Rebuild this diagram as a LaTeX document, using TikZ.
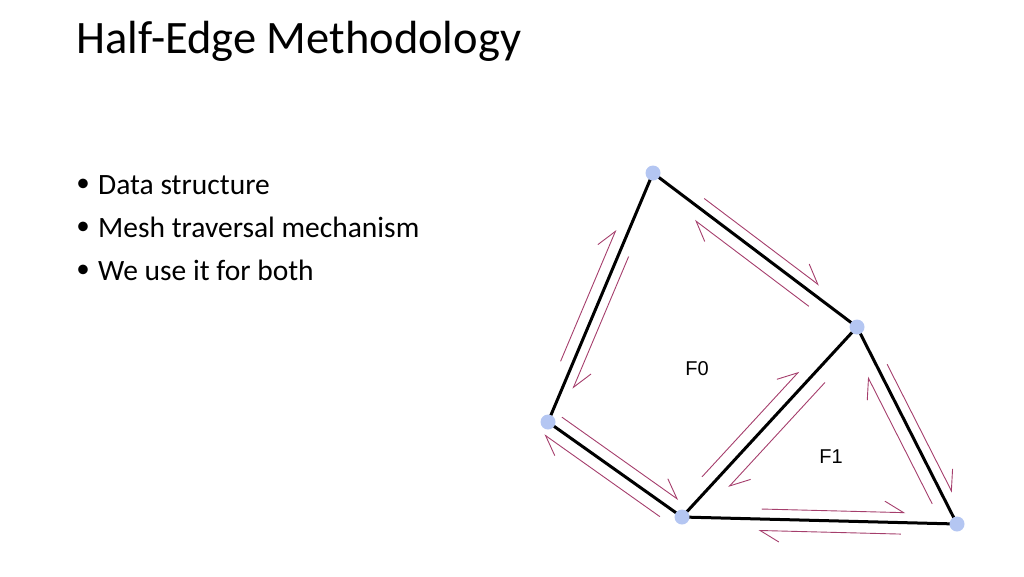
\documentclass[tikz,border=0pt]{standalone}
\usepackage{fontspec}
\setmainfont{Carlito}
\newfontfamily\labelfont{Liberation Sans}
\usetikzlibrary{calc,arrows.meta}
\definecolor{vtxblue}{RGB}{180,198,242}
\definecolor{halfrose}{RGB}{165,62,108}

\begin{document}
\begin{tikzpicture}[x=1pt,y=-1pt,
  vtx/.style={circle,fill=vtxblue,inner sep=0pt,minimum width=15pt,minimum height=13pt},
  edge/.style={line width=3pt,black},
  half/.style={halfrose,line width=0.9pt,-{Straight Barb[harpoon,length=19pt,width=22pt]}},
  item/.style={anchor=base west,inner sep=0pt,font=\fontsize{29.5}{35}\selectfont},
  dot/.style={inner sep=0pt,font=\fontsize{27}{27}\selectfont},
  face/.style={font=\labelfont\fontsize{20}{22}\selectfont}]
\useasboundingbox (0,0) rectangle (1024,576);

% title and bullets
\node (title) at (76,53) [anchor=base west,inner sep=0pt,font=\fontsize{46.5}{56}\selectfont] {Half-Edge Methodology};
\node (d1) at (83,185) [dot] {\textbullet};
\node (d2) at (83,228) [dot] {\textbullet};
\node (d3) at (83,271) [dot] {\textbullet};
\node (b1) at (98,194) [item] {Data structure};
\node (b2) at (98,237) [item] {Mesh traversal mechanism};
\node (b3) at (98,280) [item] {We use it for both};

% edges
\coordinate (p1) at (653,173);
\coordinate (p2) at (857,327);
\coordinate (p3) at (548,422);
\coordinate (p4) at (682,517);
\coordinate (p5) at (957,524);

\draw[edge] (p1) -- (p2);
\draw[edge] (p1) -- (p3);
\draw[edge] (p3) -- (p4);
\draw[edge] (p4) -- (p2);
\draw[edge] (p2) -- (p5);
\draw[edge] (p4) -- (p5);

% half-edges
\draw[half] ($(p3)!0.225!(p1)!12pt!90:(p1)$) -- ($(p3)!0.753!(p1)!12pt!90:(p1)$);
\draw[half] ($(p1)!0.32!(p3)!10pt!90:(p3)$) -- ($(p1)!0.851!(p3)!10pt!90:(p3)$);
\draw[half] ($(p1)!0.22!(p2)!10.5pt!90:(p2)$) -- ($(p1)!0.783!(p2)!10.5pt!90:(p2)$);
\draw[half] ($(p2)!0.199!(p1)!12.5pt!90:(p1)$) -- ($(p2)!0.758!(p1)!12.5pt!90:(p1)$);
\draw[half] ($(p3)!0.052!(p4)!12pt!90:(p4)$) -- ($(p3)!0.921!(p4)!12pt!90:(p4)$);
\draw[half] ($(p4)!0.111!(p3)!12.5pt!90:(p3)$) -- ($(p4)!0.974!(p3)!12.5pt!90:(p3)$);
\draw[half] ($(p4)!0.167!(p2)!12.5pt!90:(p2)$) -- ($(p4)!0.721!(p2)!12.5pt!90:(p2)$);
\draw[half] ($(p2)!0.242!(p4)!14pt!90:(p4)$) -- ($(p2)!0.793!(p4)!14pt!90:(p4)$);
\draw[half] ($(p2)!0.212!(p5)!10pt!90:(p5)$) -- ($(p2)!0.862!(p5)!10pt!90:(p5)$);
\draw[half] ($(p5)!0.132!(p2)!13pt!90:(p2)$) -- ($(p5)!0.777!(p2)!13pt!90:(p2)$);
\draw[half] ($(p4)!0.289!(p5)!10pt!90:(p5)$) -- ($(p4)!0.811!(p5)!10pt!90:(p5)$);
\draw[half] ($(p5)!0.203!(p4)!11.5pt!90:(p4)$) -- ($(p5)!0.721!(p4)!11.5pt!90:(p4)$);

% vertices
\node (v1) at (p1) [vtx] {};
\node (v2) at (p2) [vtx] {};
\node (v3) at (p3) [vtx] {};
\node (v4) at (p4) [vtx] {};
\node (v5) at (p5) [vtx] {};

% faces
\node (f0) at (697,369) [face] {F0};
\node (f1) at (831,457) [face] {F1};
\end{tikzpicture}
\end{document}
